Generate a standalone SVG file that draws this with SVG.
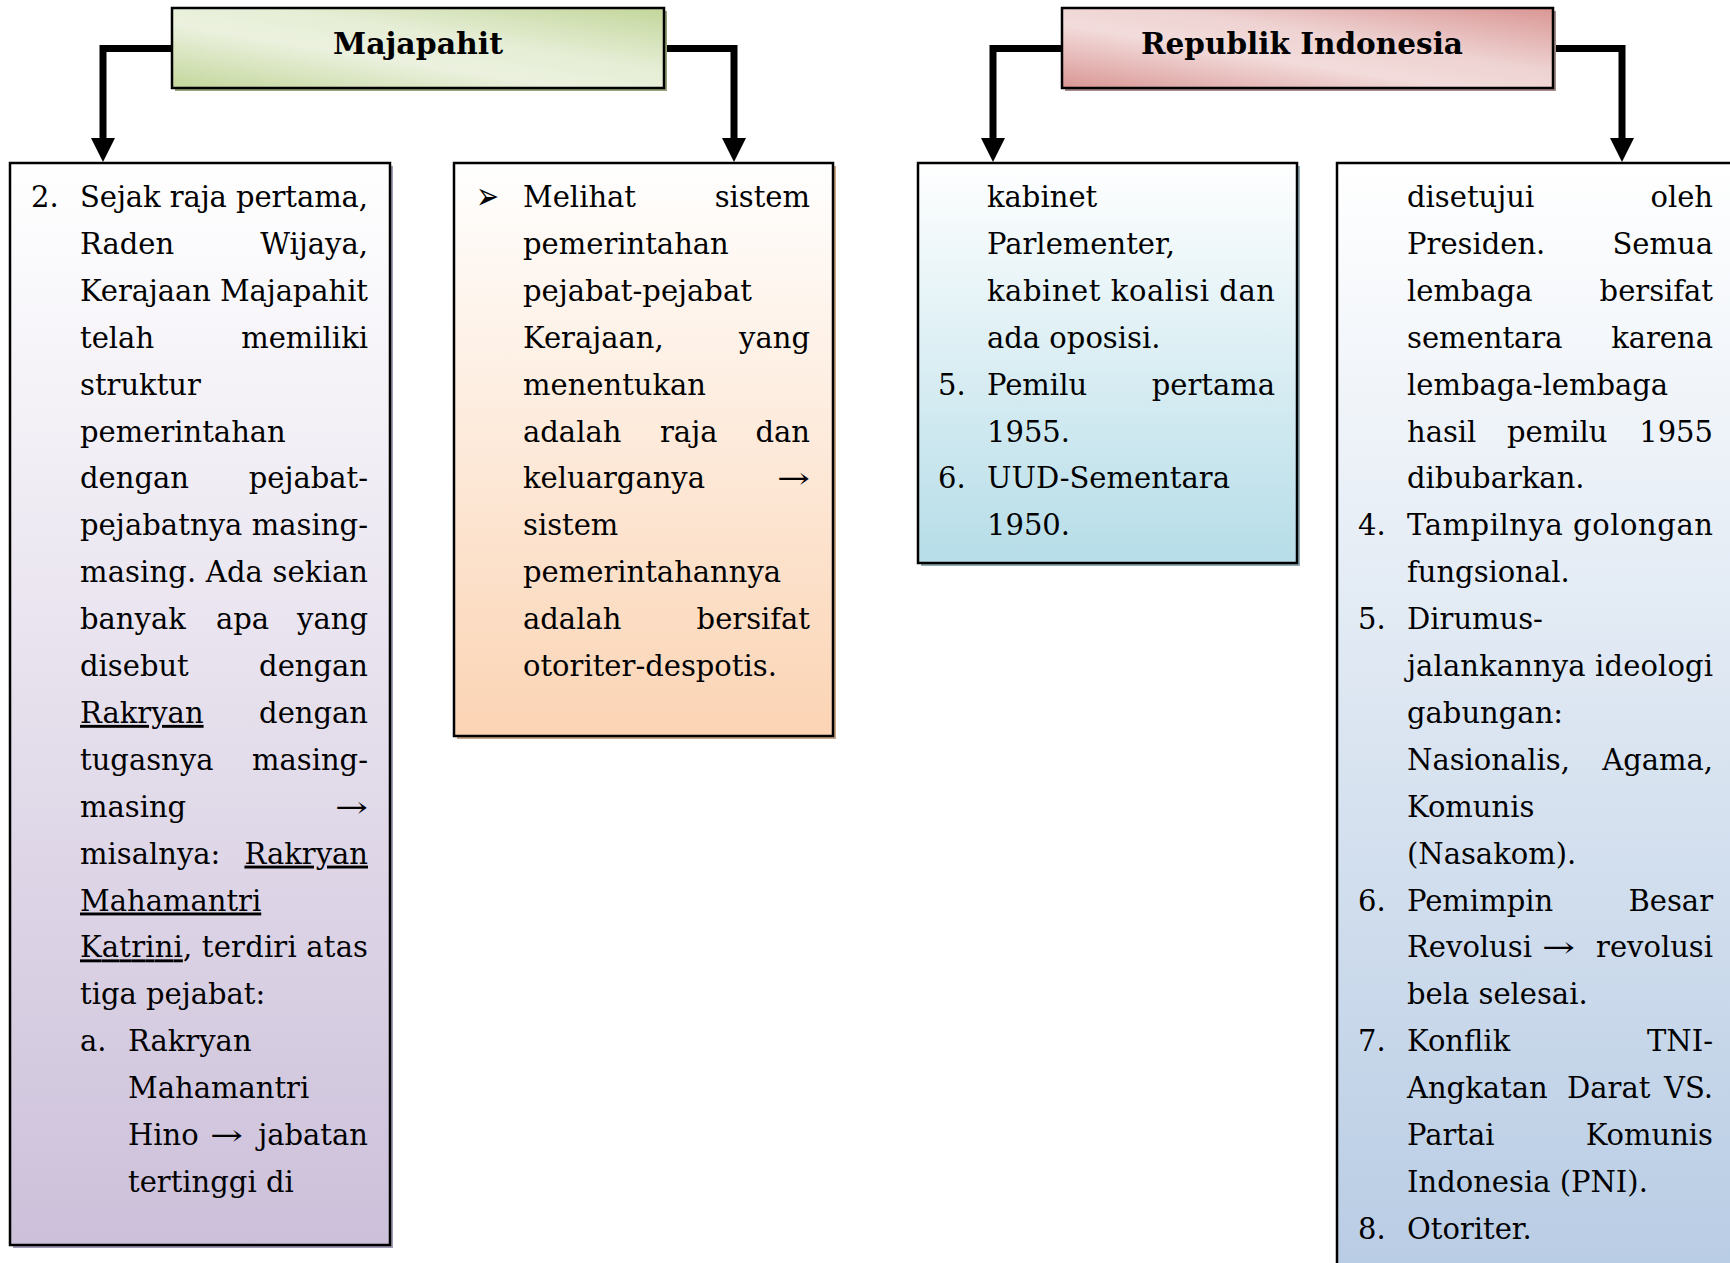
<svg xmlns="http://www.w3.org/2000/svg" width="1730" height="1263" viewBox="0 0 1730 1263">
<style>
.t{font-family:"DejaVu Serif","Liberation Serif",serif;font-size:29px;fill:#000}
.e{text-anchor:end}
.u{text-decoration:underline}
.h{font-family:"DejaVu Serif","Liberation Serif",serif;font-weight:bold;font-size:30px;text-anchor:middle;fill:#000}
.box{stroke:#000;stroke-width:2.5}
.conn{fill:none;stroke:#000;stroke-width:7;marker-end:url(#ah)}
.bul{font-family:"DejaVu Sans",sans-serif;font-size:38px}
</style>
<defs>
<marker id="ah" markerUnits="userSpaceOnUse" markerWidth="24" markerHeight="24" refX="0" refY="12" orient="auto" viewBox="0 0 24 24">
<path d="M0,0 L24,12 L0,24 Z" fill="#000"/>
</marker>
<linearGradient id="gGreen" x1="0" y1="1" x2="1" y2="0">
<stop offset="0" stop-color="#c3d69b"/><stop offset="0.4" stop-color="#ebf1de"/><stop offset="0.6" stop-color="#e6eed6"/><stop offset="1" stop-color="#c3d69b"/>
</linearGradient>
<linearGradient id="gPink" x1="0" y1="1" x2="1" y2="0">
<stop offset="0" stop-color="#d99694"/><stop offset="0.4" stop-color="#f2dcdb"/><stop offset="0.6" stop-color="#eed3d2"/><stop offset="1" stop-color="#d99694"/>
</linearGradient>
<linearGradient id="gPurple" x1="0" y1="0" x2="0" y2="1">
<stop offset="0" stop-color="#ffffff"/><stop offset="1" stop-color="#ccc0da"/>
</linearGradient>
<linearGradient id="gPeach" x1="0" y1="0" x2="0" y2="1">
<stop offset="0" stop-color="#ffffff"/><stop offset="1" stop-color="#fbd4b4"/>
</linearGradient>
<linearGradient id="gCyan" x1="0" y1="0" x2="0" y2="1">
<stop offset="0" stop-color="#ffffff"/><stop offset="1" stop-color="#b6dde8"/>
</linearGradient>
<linearGradient id="gSteel" x1="0" y1="0" x2="0" y2="1">
<stop offset="0" stop-color="#ffffff"/><stop offset="1" stop-color="#b8cce4"/>
</linearGradient>
</defs>

<g id="connectors">
<path class="conn" d="M172,48.5 H103 V138"/>
<path class="conn" d="M664,48.5 H734 V138"/>
<path class="conn" d="M1062,48.5 H993 V138"/>
<path class="conn" d="M1553,48.5 H1622 V138"/>
</g>

<g id="node-majapahit">
<rect x="175" y="11" width="492" height="80" fill="#97a37e"/>
<rect class="box" x="172" y="8" width="492" height="80" fill="url(#gGreen)"/>
<text class="h" x="418" y="54" textLength="170" lengthAdjust="spacingAndGlyphs">Majapahit</text>
</g>

<g id="node-republik">
<rect x="1065" y="11" width="491" height="80" fill="#a98a8a"/>
<rect class="box" x="1062" y="8" width="491" height="80" fill="url(#gPink)"/>
<text class="h" x="1302" y="54" textLength="322" lengthAdjust="spacingAndGlyphs">Republik Indonesia</text>
</g>

<g id="node-majapahit-1">
<rect x="13" y="166" width="380" height="1082" fill="#a39bb5"/>
<rect class="box" x="10" y="163" width="380" height="1082" fill="url(#gPurple)"/>
<text class="t" x="31" y="207">2.</text>
<text class="t" x="80" y="207" textLength="288" lengthAdjust="spacing">Sejak raja pertama,</text>
<text class="t" x="80" y="253.9">Raden</text><text class="t e" x="368" y="253.9">Wijaya,</text>
<text class="t" x="80" y="300.8" textLength="288" lengthAdjust="spacing">Kerajaan Majapahit</text>
<text class="t" x="80" y="347.7">telah</text><text class="t e" x="368" y="347.7">memiliki</text>
<text class="t" x="80" y="394.6">struktur</text>
<text class="t" x="80" y="441.5">pemerintahan</text>
<text class="t" x="80" y="488.4">dengan</text><text class="t e" x="368" y="488.4">pejabat-</text>
<text class="t" x="80" y="535.3" textLength="288" lengthAdjust="spacing">pejabatnya masing-</text>
<text class="t" x="80" y="582.2" textLength="288" lengthAdjust="spacing">masing. Ada sekian</text>
<text class="t" x="80" y="629.1">banyak</text><text class="t" x="216" y="629.1">apa</text><text class="t e" x="368" y="629.1">yang</text>
<text class="t" x="80" y="676">disebut</text><text class="t e" x="368" y="676">dengan</text>
<text class="t u" x="80" y="722.9">Rakryan</text><text class="t e" x="368" y="722.9">dengan</text>
<text class="t" x="80" y="769.8">tugasnya</text><text class="t e" x="368" y="769.8">masing-</text>
<text class="t" x="80" y="816.7">masing</text><text class="t" x="335" y="816.7" textLength="33" lengthAdjust="spacingAndGlyphs">→</text>
<text class="t" x="80" y="863.6">misalnya:</text><text class="t e u" x="368" y="863.6">Rakryan</text>
<text class="t u" x="80" y="910.5">Mahamantri</text>
<text class="t" x="80" y="957.4" textLength="288" lengthAdjust="spacing"><tspan class="u">Katrini</tspan>, terdiri atas</text>
<text class="t" x="80" y="1004.3">tiga pejabat:</text>
<text class="t" x="80" y="1051.2">a.</text><text class="t" x="128" y="1051.2">Rakryan</text>
<text class="t" x="128" y="1098.1">Mahamantri</text>
<text class="t" x="128" y="1145">Hino</text><text class="t" x="210" y="1145" textLength="33" lengthAdjust="spacingAndGlyphs">→</text><text class="t e" x="368" y="1145">jabatan</text>
<text class="t" x="128" y="1191.9">tertinggi di</text>
</g>

<g id="node-majapahit-2">
<rect x="457" y="166" width="379" height="573" fill="#c4a486"/>
<rect class="box" x="454" y="163" width="379" height="573" fill="url(#gPeach)"/>
<text class="bul" x="476" y="209" textLength="23" lengthAdjust="spacingAndGlyphs">➢</text>
<text class="t" x="523" y="207">Melihat</text><text class="t e" x="810" y="207">sistem</text>
<text class="t" x="523" y="253.9">pemerintahan</text>
<text class="t" x="523" y="300.8">pejabat-pejabat</text>
<text class="t" x="523" y="347.7">Kerajaan,</text><text class="t e" x="810" y="347.7">yang</text>
<text class="t" x="523" y="394.6">menentukan</text>
<text class="t" x="523" y="441.5">adalah</text><text class="t" x="660" y="441.5">raja</text><text class="t e" x="810" y="441.5">dan</text>
<text class="t" x="523" y="488.4">keluarganya</text><text class="t" x="777" y="488.4" textLength="33" lengthAdjust="spacingAndGlyphs">→</text>
<text class="t" x="523" y="535.3">sistem</text>
<text class="t" x="523" y="582.2">pemerintahannya</text>
<text class="t" x="523" y="629.1">adalah</text><text class="t e" x="810" y="629.1">bersifat</text>
<text class="t" x="523" y="676">otoriter-despotis.</text>
</g>

<g id="node-republik-1">
<rect x="921" y="166" width="379" height="400" fill="#8eabb5"/>
<rect class="box" x="918" y="163" width="379" height="400" fill="url(#gCyan)"/>
<text class="t" x="987" y="207">kabinet</text>
<text class="t" x="987" y="253.9">Parlementer,</text>
<text class="t" x="987" y="300.8" textLength="288" lengthAdjust="spacing">kabinet koalisi dan</text>
<text class="t" x="987" y="347.7">ada oposisi.</text>
<text class="t" x="938" y="394.6">5.</text><text class="t" x="987" y="394.6">Pemilu</text><text class="t e" x="1275" y="394.6">pertama</text>
<text class="t" x="987" y="441.5">1955.</text>
<text class="t" x="938" y="488.4">6.</text><text class="t" x="987" y="488.4">UUD-Sementara</text>
<text class="t" x="987" y="535.3">1950.</text>
</g>

<g id="node-republik-2">
<rect class="box" x="1337" y="163" width="420" height="1115" fill="url(#gSteel)"/>
<text class="t" x="1407" y="207">disetujui</text><text class="t e" x="1713" y="207">oleh</text>
<text class="t" x="1407" y="253.9">Presiden.</text><text class="t e" x="1713" y="253.9">Semua</text>
<text class="t" x="1407" y="300.8">lembaga</text><text class="t e" x="1713" y="300.8">bersifat</text>
<text class="t" x="1407" y="347.7">sementara</text><text class="t e" x="1713" y="347.7">karena</text>
<text class="t" x="1407" y="394.6">lembaga-lembaga</text>
<text class="t" x="1407" y="441.5">hasil</text><text class="t" x="1507" y="441.5">pemilu</text><text class="t e" x="1713" y="441.5">1955</text>
<text class="t" x="1407" y="488.4">dibubarkan.</text>
<text class="t" x="1358" y="535.3">4.</text><text class="t" x="1407" y="535.3" textLength="306" lengthAdjust="spacing">Tampilnya golongan</text>
<text class="t" x="1407" y="582.2">fungsional.</text>
<text class="t" x="1358" y="629.1">5.</text><text class="t" x="1407" y="629.1">Dirumus-</text>
<text class="t" x="1407" y="676" textLength="306" lengthAdjust="spacing">jalankannya ideologi</text>
<text class="t" x="1407" y="722.9">gabungan:</text>
<text class="t" x="1407" y="769.8">Nasionalis,</text><text class="t e" x="1713" y="769.8">Agama,</text>
<text class="t" x="1407" y="816.7">Komunis</text>
<text class="t" x="1407" y="863.6">(Nasakom).</text>
<text class="t" x="1358" y="910.5">6.</text><text class="t" x="1407" y="910.5">Pemimpin</text><text class="t e" x="1713" y="910.5">Besar</text>
<text class="t" x="1407" y="957.4">Revolusi</text><text class="t" x="1542" y="957.4" textLength="33" lengthAdjust="spacingAndGlyphs">→</text><text class="t e" x="1713" y="957.4">revolusi</text>
<text class="t" x="1407" y="1004.3">bela selesai.</text>
<text class="t" x="1358" y="1051.2">7.</text><text class="t" x="1407" y="1051.2">Konflik</text><text class="t e" x="1713" y="1051.2">TNI-</text>
<text class="t" x="1407" y="1098.1">Angkatan</text><text class="t" x="1567" y="1098.1">Darat</text><text class="t e" x="1713" y="1098.1">VS.</text>
<text class="t" x="1407" y="1145">Partai</text><text class="t e" x="1713" y="1145">Komunis</text>
<text class="t" x="1407" y="1191.9">Indonesia (PNI).</text>
<text class="t" x="1358" y="1238.8">8.</text><text class="t" x="1407" y="1238.8">Otoriter.</text>
</g>
</svg>
